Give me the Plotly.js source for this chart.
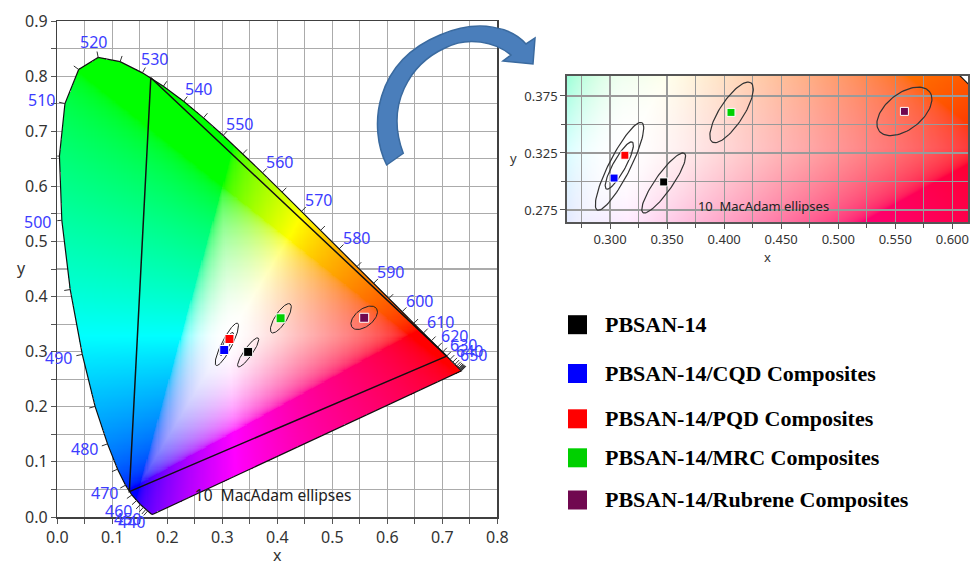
<!DOCTYPE html>
<html><head><meta charset="utf-8">
<script src="https://cdn.plot.ly/plotly-3.0.1.min.js"></script>
<style>html,body{margin:0;padding:0;background:#fff}#chart{width:971px;height:566px}</style>
</head><body><div id="chart"></div>
<script>
// ---------------- DATA ----------------
const wavelengths = [380,385,390,395,400,405,410,415,420,425,430,435,440,445,450,455,460,465,470,475,480,485,490,495,500,505,510,515,520,525,530,535,540,545,550,555,560,565,570,575,580,585,590,595,600,605,610,615,620,625,630,635,640,645,650,655,660,665,670,675,680,685,690,695,700];
const locusX = [0.1741,0.1740,0.1738,0.1736,0.1733,0.1730,0.1726,0.1721,0.1714,0.1703,0.1689,0.1669,0.1644,0.1611,0.1566,0.1510,0.1440,0.1355,0.1241,0.1096,0.0913,0.0687,0.0454,0.0235,0.0082,0.0039,0.0139,0.0389,0.0743,0.1142,0.1547,0.1929,0.2296,0.2658,0.3016,0.3373,0.3731,0.4087,0.4441,0.4788,0.5125,0.5448,0.5752,0.6029,0.6270,0.6482,0.6658,0.6801,0.6915,0.7006,0.7079,0.7140,0.7190,0.7230,0.7260,0.7283,0.7300,0.7311,0.7320,0.7327,0.7334,0.7340,0.7344,0.7346,0.7347];
const locusY = [0.0050,0.0050,0.0049,0.0049,0.0048,0.0048,0.0048,0.0048,0.0051,0.0058,0.0069,0.0086,0.0109,0.0138,0.0177,0.0227,0.0297,0.0399,0.0578,0.0868,0.1327,0.2007,0.2950,0.4127,0.5384,0.6548,0.7502,0.8120,0.8338,0.8262,0.8059,0.7816,0.7543,0.7243,0.6923,0.6589,0.6245,0.5896,0.5547,0.5202,0.4866,0.4544,0.4242,0.3965,0.3725,0.3514,0.3340,0.3197,0.3083,0.2993,0.2920,0.2859,0.2809,0.2770,0.2740,0.2717,0.2700,0.2689,0.2680,0.2673,0.2666,0.2660,0.2656,0.2654,0.2653];
const labelWavelengths = [440,450,460,470,480,490,500,510,520,530,540,550,560,570,580,590,600,610,620,630,640,650];
const tickWavelengths = [440,445,450,455,460,465,470,475,480,485,490,495,500,505,510,515,520,525,530,535,540,545,550,555,560,565,570,575,580,585,590,595,600,605,610,615,620,625,630,635,640,645,650,655,660,665,670,675,680,685,690,695,700];
const gamutX = [0.708,0.170,0.131,0.708];
const gamutY = [0.292,0.797,0.046,0.292];

const sampleNames = ['PBSAN-14','PBSAN-14/CQD Composites','PBSAN-14/PQD Composites','PBSAN-14/MRC Composites','PBSAN-14/Rubrene Composites'];
const sampleX = [0.347,0.3035,0.313,0.406,0.558];
const sampleY = [0.2996,0.303,0.323,0.3606,0.3615];
const sampleColors = ['#000000','#0000ff','#ff0000','#00d000','#700850'];

const ellipseCX = [0.3083,0.3081,0.347,0.4065,0.558];
const ellipseCY = [0.3133,0.3140,0.2987,0.3606,0.3615];
const ellipseA = [0.043,0.0235,0.0317,0.031,0.028];
const ellipseB = [0.0093,0.0055,0.0076,0.0105,0.0158];
const ellipseAngle = [63,61,55,57,38];
const ellipseText = '10  MacAdam ellipses';

// ---------------- helpers ----------------
const W = 971, H = 566;
const px = v => v / W, py = v => 1 - v / H;
const WP = [0.3333, 0.3333];

const mainDomX = [px(57.3), px(497.3)], mainDomY = [py(517), py(21)];
const mainRangeX = [0, 0.8], mainRangeY = [0, 0.9];
const toPaperX = x => mainDomX[0] + (x - mainRangeX[0]) / (mainRangeX[1] - mainRangeX[0]) * (mainDomX[1] - mainDomX[0]);
const toPaperY = y => mainDomY[0] + (y - mainRangeY[0]) / (mainRangeY[1] - mainRangeY[0]) * (mainDomY[1] - mainDomY[0]);

function insideLocus(x, y) {
  let c = false; const n = locusX.length;
  for (let i = 0, j = n - 1; i < n; j = i++) {
    const yi = locusY[i], yj = locusY[j], xi = locusX[i], xj = locusX[j];
    if (((yi > y) !== (yj > y)) && (x < (xj - xi) * (y - yi) / (yj - yi) + xi)) c = !c;
  }
  return c;
}
function gam(c) { return c <= 0.0031308 ? 12.92 * c : 1.055 * Math.pow(c, 1 / 2.4) - 0.055; }
function xyToRGB(x, y) {
  const X = x / y, Z = (1 - x - y) / y;
  let r = 3.2406 * X - 1.5372 - 0.4986 * Z;
  let g = -0.9689 * X + 1.8758 + 0.0415 * Z;
  let b = 0.0557 * X - 0.2040 + 1.0570 * Z;
  r = Math.max(0, r); g = Math.max(0, g); b = Math.max(0, b);
  const m = Math.max(r, g, b) || 1;
  r /= m; g /= m; b /= m;
  // soften towards white near the white point (edges stay saturated)
  const s = 1 - Math.min(r, g, b);
  const f = Math.pow(s, 1.5);
  r = 1 - f * (1 - r); g = 1 - f * (1 - g); b = 1 - f * (1 - b);
  return [gam(r) * 255, gam(g) * 255, gam(b) * 255];
}
function renderDiagram(xmin, ncols, ymin, nrows, d, topDown) {
  const cv = document.createElement('canvas');
  cv.width = ncols; cv.height = nrows;
  const ctx = cv.getContext('2d');
  const img = ctx.createImageData(ncols, nrows);
  for (let i = 0; i < nrows; i++) {
    const y = topDown ? ymin + (nrows - i - 0.5) * d : ymin + (i + 0.5) * d;
    for (let j = 0; j < ncols; j++) {
      const x = xmin + (j + 0.5) * d;
      const k = (i * ncols + j) * 4;
      if (y > 0 && insideLocus(x, y)) {
        const c = xyToRGB(x, y);
        img.data[k] = c[0]; img.data[k + 1] = c[1]; img.data[k + 2] = c[2]; img.data[k + 3] = 255;
      }
    }
  }
  ctx.putImageData(img, 0, 0);
  return cv.toDataURL('image/png');
}

const mainD = 0.002;
const mainImg = renderDiagram(0, 400, 0, 450, mainD, false);
const insetD = 0.001;
const insetImg = renderDiagram(0.262, 352, 0.2642, 129, insetD, true);

function normalAt(idx) {
  const a = Math.max(0, idx - 1), b = Math.min(locusX.length - 1, idx + 1);
  let tx = locusX[b] - locusX[a], ty = locusY[b] - locusY[a];
  const L = Math.hypot(tx, ty) || 1; tx /= L; ty /= L;
  let nx = ty, ny = -tx;
  if (nx * (locusX[idx] - WP[0]) + ny * (locusY[idx] - WP[1]) < 0) { nx = -nx; ny = -ny; }
  return [nx, ny];
}
const tickX = [], tickY = [];
tickWavelengths.forEach(w => {
  const i = wavelengths.indexOf(w); const n = normalAt(i);
  tickX.push(locusX[i], locusX[i] + n[0] * 0.011, null);
  tickY.push(locusY[i], locusY[i] + n[1] * 0.011, null);
});
const elX = [], elY = [];
for (let e = 0; e < ellipseCX.length; e++) {
  const th = ellipseAngle[e] * Math.PI / 180;
  for (let t = 0; t <= 360; t += 4) {
    const r = t * Math.PI / 180;
    const u = ellipseA[e] * Math.cos(r), v = ellipseB[e] * Math.sin(r);
    elX.push(ellipseCX[e] + u * Math.cos(th) - v * Math.sin(th));
    elY.push(ellipseCY[e] + u * Math.sin(th) + v * Math.cos(th));
  }
  elX.push(null); elY.push(null);
}
const locusClosedX = locusX.concat([locusX[0]]);
const locusClosedY = locusY.concat([locusY[0]]);

const FONT = 'Noto Sans, DejaVu Sans, sans-serif';

const traces = [
  {type: 'image', source: mainImg, x0: mainD / 2, dx: mainD, y0: mainD / 2, dy: mainD, xaxis: 'x', yaxis: 'y', hoverinfo: 'skip'},
  {type: 'scatter', mode: 'lines', x: locusClosedX, y: locusClosedY, line: {color: '#111', width: 1.2}, xaxis: 'x', yaxis: 'y', hoverinfo: 'skip'},
  {type: 'scatter', mode: 'lines', x: tickX, y: tickY, line: {color: '#333', width: 1}, xaxis: 'x', yaxis: 'y', hoverinfo: 'skip', cliponaxis: false},
  {type: 'scatter', mode: 'lines', x: gamutX, y: gamutY, line: {color: '#111', width: 1.5}, xaxis: 'x', yaxis: 'y', hoverinfo: 'skip'},
  {type: 'scatter', mode: 'lines', x: elX, y: elY, line: {color: '#222', width: 1}, xaxis: 'x', yaxis: 'y', hoverinfo: 'skip'},
  {type: 'scatter', mode: 'markers', x: sampleX, y: sampleY, text: sampleNames, marker: {symbol: 'square', size: 9, color: sampleColors, line: {color: '#ffffff', width: 1}}, xaxis: 'x', yaxis: 'y'},
  {type: 'scatter', mode: 'text', x: [0.25], y: [0.036], text: [ellipseText], textposition: 'middle right', textfont: {family: FONT, size: 15.5, color: '#222'}, cliponaxis: false, xaxis: 'x', yaxis: 'y', hoverinfo: 'skip'},
  // inset
  {type: 'scatter', mode: 'lines', x: locusClosedX, y: locusClosedY, line: {color: '#111', width: 1.2}, xaxis: 'x2', yaxis: 'y2', hoverinfo: 'skip'},
  {type: 'scatter', mode: 'lines', x: elX, y: elY, line: {color: '#333', width: 1.2}, xaxis: 'x2', yaxis: 'y2', hoverinfo: 'skip'},
  {type: 'scatter', mode: 'markers', x: sampleX, y: sampleY, text: sampleNames, marker: {symbol: 'square', size: 8, color: sampleColors, line: {color: '#ffffff', width: 1}}, xaxis: 'x2', yaxis: 'y2'},
  {type: 'scatter', mode: 'text', x: [0.377], y: [0.277], text: [ellipseText], textposition: 'middle right', textfont: {family: FONT, size: 13, color: '#222'}, xaxis: 'x2', yaxis: 'y2', hoverinfo: 'skip'}
];

// arrow (pixel coordinates -> paper)
function P(x, y) { return px(x).toFixed(4) + ',' + py(y).toFixed(4); }
const arrowPath = 'M' + P(386.7, 165) +
  ' C' + P(368, 128) + ' ' + P(374, 62) + ' ' + P(440, 35) +
  ' C' + P(480, 18) + ' ' + P(512, 28) + ' ' + P(526, 44) +
  ' L' + P(535, 38) + ' L' + P(533, 64) + ' L' + P(503, 61) + ' L' + P(511, 55) +
  ' C' + P(495, 42) + ' ' + P(468, 36) + ' ' + P(445, 48) +
  ' C' + P(410, 64) + ' ' + P(385, 105) + ' ' + P(403.3, 153.3) + ' Z';

const legendRowY = [324.7, 373.5, 418.8, 457.8, 500];
const shapes = [{type: 'path', xref: 'paper', yref: 'paper', path: arrowPath, fillcolor: '#4a7ebb', line: {color: '#3a6a9f', width: 1.5}, layer: 'above'}];
const annotations = [
  {xref: 'paper', yref: 'paper', x: px(15), y: py(268), text: 'y', showarrow: false, font: {family: FONT, size: 16, color: '#333'}},
  {xref: 'paper', yref: 'paper', x: px(513), y: py(147), text: 'y', showarrow: false, font: {family: FONT, size: 13, color: '#333'}}
];
// wavelength labels (paper coords derived from the main axes mapping so labels outside the range still show)
labelWavelengths.forEach(w => {
  const i = wavelengths.indexOf(w); const n = normalAt(i);
  annotations.push({xref: 'paper', yref: 'paper', x: toPaperX(locusX[i] + n[0] * 0.044), y: toPaperY(locusY[i] + n[1] * 0.028),
    xanchor: 'center', yanchor: 'middle', text: String(w), showarrow: false, font: {family: FONT, size: 16, color: '#3c3cff'}});
});
sampleNames.forEach((name, i) => {
  shapes.push({type: 'rect', xref: 'paper', yref: 'paper', x0: px(568), x1: px(587), y0: py(legendRowY[i] + 9.5), y1: py(legendRowY[i] - 9.5), fillcolor: sampleColors[i], line: {width: 0}});
  annotations.push({xref: 'paper', yref: 'paper', x: px(603), y: py(legendRowY[i]), xanchor: 'left', yanchor: 'middle', text: '<b>' + name + '</b>', showarrow: false, font: {family: 'Liberation Serif, Times New Roman, serif', size: 22, color: '#000'}});
});

const axCommon = {showline: true, linecolor: '#404040', linewidth: 1.5, mirror: true, zeroline: false, ticks: 'outside', ticklen: 5, tickcolor: '#555', showgrid: true, gridcolor: '#ababab', gridwidth: 1.2, fixedrange: true, automargin: false};

const layout = {
  width: W, height: H, margin: {l: 0, r: 0, t: 0, b: 0}, paper_bgcolor: '#fff', plot_bgcolor: '#fff', showlegend: false,
  font: {family: FONT, color: '#333'},
  xaxis: Object.assign({}, axCommon, {domain: mainDomX, range: mainRangeX, tick0: 0, dtick: 0.1, tickformat: '.1f', tickfont: {size: 16, color: '#333'}, anchor: 'y',
    minor: {dtick: 0.05, showgrid: true, gridcolor: '#ababab', gridwidth: 1.2, ticks: 'outside', ticklen: 5, tickcolor: '#555'},
    title: {text: 'x', font: {size: 16, color: '#333'}, standoff: 3}}),
  yaxis: Object.assign({}, axCommon, {domain: mainDomY, range: mainRangeY, autorange: false, tick0: 0, dtick: 0.1, tickformat: '.1f', tickfont: {size: 16, color: '#333'}, anchor: 'x', scaleanchor: false,
    minor: {dtick: 0.05, showgrid: true, gridcolor: '#ababab', gridwidth: 1.2, ticks: 'outside', ticklen: 5, tickcolor: '#555'}}),
  xaxis2: Object.assign({}, axCommon, {domain: [px(566.7), px(968.3)], range: [0.262, 0.614], tick0: 0.3, dtick: 0.05, tickformat: '.3f', tickfont: {size: 13, color: '#333'}, anchor: 'y2', gridcolor: '#9a9a9a', linecolor: '#555',
    minor: {dtick: 0.025, showgrid: true, gridcolor: '#9a9a9a', gridwidth: 1.2, ticks: 'outside', ticklen: 4, tickcolor: '#555'},
    title: {text: 'x', font: {size: 13, color: '#333'}, standoff: 4}}),
  yaxis2: Object.assign({}, axCommon, {domain: [py(222.3), py(75.7)], range: [0.2642, 0.3928], autorange: false, tick0: 0.275, dtick: 0.05, tickformat: '.3f', tickfont: {size: 13, color: '#333'}, anchor: 'x2', gridcolor: '#9a9a9a', linecolor: '#555',
    minor: {dtick: 0.025, showgrid: true, gridcolor: '#9a9a9a', gridwidth: 1.2, ticks: 'outside', ticklen: 4, tickcolor: '#555'}}),
  images: [{source: insetImg, xref: 'x2', yref: 'y2', x: 0.262, y: 0.3928, sizex: 0.352, sizey: 0.1286, sizing: 'stretch', xanchor: 'left', yanchor: 'top', layer: 'below'}],
  shapes: shapes,
  annotations: annotations
};

Plotly.newPlot('chart', traces, layout, {displayModeBar: false, staticPlot: true});
</script>
</body></html>
